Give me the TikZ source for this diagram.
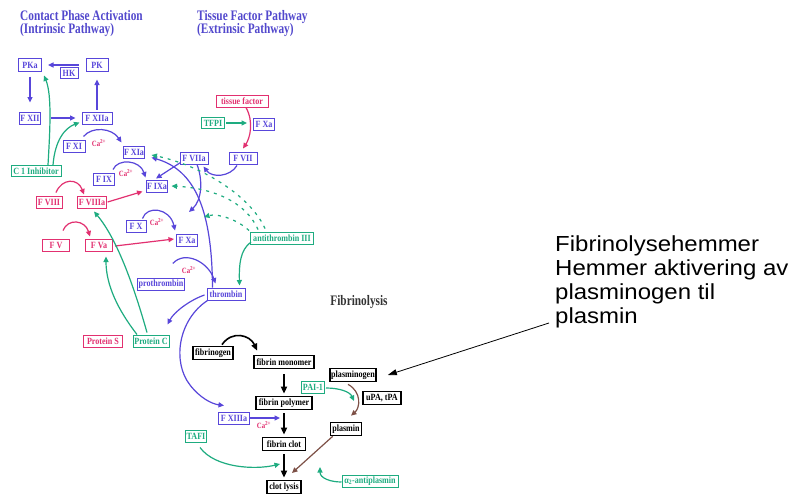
\documentclass[tikz,border=0pt]{standalone}
\usepackage{fontspec}
\setmainfont{Liberation Serif}
\newfontfamily\dfont[FakeStretch=0.85]{Liberation Serif}
\newfontfamily\tfont[FakeStretch=0.78]{Liberation Serif}
\newfontfamily\afont[FakeStretch=1.1]{Liberation Sans}
\usetikzlibrary{arrows.meta}
\definecolor{cblue}{RGB}{88,70,218}
\definecolor{cpink}{RGB}{226,48,112}
\definecolor{cgreen}{RGB}{30,172,128}
\definecolor{ctitle}{RGB}{82,72,205}
\definecolor{cbrown}{RGB}{125,80,70}
\begin{document}
\begin{tikzpicture}[x=1pt,y=-1pt,
 box/.style={draw, line width=1pt, inner sep=1pt, minimum height=12pt, font=\dfont\bfseries\fontsize{9.5}{10}\selectfont},
 bb/.style={box, draw=cblue, text=cblue},
 pb/.style={box, draw=cpink, text=cpink},
 gb/.style={box, draw=cgreen, text=cgreen},
 kb/.style={box, draw=black, text=black, line width=1.7pt, minimum height=13pt},
 ca/.style={text=cpink, font=\dfont\bfseries\fontsize{8}{8}\selectfont, inner sep=0pt},
 conn/.style={line width=1.2pt, -{Triangle[length=5.5pt,width=5pt]}},
 bl/.style={conn, cblue}, pl/.style={conn, cpink}, gl/.style={conn, cgreen},
 gd/.style={gl, dash pattern=on 3pt off 5pt},
 kl/.style={line width=1.6pt, black, -{Triangle[length=7pt,width=6pt]}},
 rl/.style={conn, cbrown},
 ttl/.style={anchor=base west, text=ctitle, inner sep=0pt, font=\tfont\bfseries\fontsize{14.5}{15}\selectfont},
 ann/.style={anchor=base west, inner sep=0pt, font=\afont\fontsize{21.8}{24}\selectfont}
]
\useasboundingbox (0,0) rectangle (792,495);
\fill[white] (0,0) rectangle (792,495);

% titles
\node[ttl] (t1) at (20,20.5) {Contact Phase Activation};
\node[ttl] (t2) at (20,34) {(Intrinsic Pathway)};
\node[ttl] (t3) at (197,20.5) {Tissue Factor Pathway};
\node[ttl] (t4) at (197,34) {(Extrinsic Pathway)};
\node[font=\tfont\bfseries\fontsize{14.5}{15}\selectfont, text=black!80, inner sep=0pt] (fib) at (359,302) {Fibrinolysis};

% nodes
\node[bb,minimum width=23pt] (PKa) at (30,65) {PKa};
\node[bb,minimum width=18pt,minimum height=11pt] (HK) at (69,73) {HK};
\node[bb,minimum width=22pt] (PK) at (97,65) {PK};
\node[bb,minimum width=21pt] (FXII) at (30,118) {F XII};
\node[bb,minimum width=30pt] (FXIIa) at (97,118) {F XIIa};
\node[bb,minimum width=22pt] (FXI) at (74,146) {F XI};
\node[bb,minimum width=21pt] (FXIa) at (134,152) {F XIa};
\node[bb,minimum width=28pt] (FVIIa) at (194,158) {F VIIa};
\node[bb,minimum width=28pt] (FVII) at (243,158) {F VII};
\node[gb,minimum width=23pt,minimum height=11pt] (TFPI) at (213,123) {TFPI};
\node[bb,minimum width=21pt] (FXau) at (264,124) {F Xa};
\node[pb,minimum width=52pt] (TF) at (242,101) {tissue factor};
\node[bb,minimum width=21pt] (FIX) at (104,179) {F IX};
\node[bb,minimum width=21pt] (FIXa) at (157,186) {F IXa};
\node[gb,minimum width=50pt,minimum height=11pt] (CI) at (36,171) {C 1 Inhibitor};
\node[pb,minimum width=26pt] (FVIII) at (49,202) {F VIII};
\node[pb,minimum width=28pt] (FVIIIa) at (92,202) {F VIIIa};
\node[bb,minimum width=20pt] (FX) at (136,226) {F X};
\node[bb,minimum width=21pt] (FXa) at (187,240) {F Xa};
\node[pb,minimum width=27pt] (FV) at (56,245) {F V};
\node[pb,minimum width=27pt] (FVa) at (99,245) {F Va};
\node[gb,minimum width=63pt] (AT) at (282,238) {antithrombin III};
\node[bb,minimum width=46pt] (proT) at (161,284) {prothrombin};
\node[bb,minimum width=38pt] (thr) at (226,294) {thrombin};
\node[pb,minimum width=39pt] (PS) at (103,341) {Protein S};
\node[gb,minimum width=36pt] (PC) at (151,341) {Protein C};
\node[kb,minimum width=40pt] (fbg) at (213,353) {fibrinogen};
\node[kb,minimum width=60pt] (fmon) at (284,362) {fibrin monomer};
\node[kb,minimum width=56pt] (fpol) at (284,403) {fibrin polymer};
\node[kb,minimum width=43pt] (fclot) at (284,444) {fibrin clot};
\node[kb,minimum width=34pt] (lysis) at (284,487) {clot lysis};
\node[kb,minimum width=46pt] (plg) at (353,375) {plasminogen};
\node[gb,minimum width=23pt] (PAI) at (313,387) {PAI-1};
\node[kb,minimum width=38pt] (uPA) at (382,398) {uPA, tPA};
\node[kb,minimum width=31pt] (plm) at (346,429) {plasmin};
\node[bb,minimum width=31pt] (FXIIIa) at (234,418) {F XIIIa};
\node[gb,minimum width=20pt] (TAFI) at (196,436) {TAFI};
\node[gb,minimum width=56pt] (apl) at (370,481) {α\textsubscript{2}-antiplasmin};

% Ca labels
\node[ca] (ca1) at (99,143) {Ca\textsuperscript{2+}};
\node[ca] (ca2) at (126,173) {Ca\textsuperscript{2+}};
\node[ca] (ca3) at (157,222) {Ca\textsuperscript{2+}};
\node[ca] (ca4) at (189,270) {Ca\textsuperscript{2+}};
\node[ca] (ca5) at (264,425) {Ca\textsuperscript{2+}};

% blue connectors
\draw[bl, shorten >=6pt] (HK.north east |- PKa.east) -- (PKa.east);
\draw[bl, shorten <=5pt, shorten >=9pt] (PKa.south) -- (FXII.north);
\draw[bl, shorten <=10pt, shorten >=6pt] (FXII.east) -- (FXIIa.west);
\draw[bl, shorten <=2pt, shorten >=8pt] (FXIIa.north) -- (PK.south);
\draw[bl] ([shift={(-2,-3)}]FXI.north east) .. controls (92,126) and (112,128) .. ([shift={(-1,-3)}]FXIa.north west);
\draw[bl] ([shift={(-2,-3)}]FIX.north east) .. controls (118,158) and (140,160) .. ([shift={(0,-2)}]FIXa.north west);
\draw[bl] ([shift={(1,-2)}]FVIIa.south west) -- ([shift={(-1,-1)}]FIXa.north);
\draw[bl] ([shift={(6,0)}]thr.north west) .. controls (212,210) and (195,170) .. ([shift={(6,-1)}]FXIa.south east);
\coordinate (vxa) at (189,212);
\draw[bl] ([shift={(3,0)}]FVIIa.south) .. controls (203,180) and (202,200) .. (vxa);
\draw[bl] ([shift={(-6,1)}]FVII.south) .. controls (230,177) and (212,178) .. ([shift={(-5,2)}]FVIIa.south east);
\draw[bl] ([shift={(-4,-1)}]FX.north east) .. controls (147,205) and (170,208) .. ([shift={(-1,-3)}]FXa.north west);
\draw[bl] ([shift={(-12,-14)}]proT.north east) .. controls (185,250) and (208,262) .. ([shift={(9,-4)}]thr.north west);
\draw[bl] ([shift={(-2,1)}]thr.west) .. controls (190,300) and (174,312) .. ([shift={(-2,-10)}]PC.north east);
\draw[bl] ([shift={(1,0)}]thr.south west) .. controls (178,320) and (172,362) .. (190,385) .. controls (200,398) and (212,404) .. ([shift={(6,-6)}]FXIIIa.north west);
\coordinate (xiiit) at ([xshift=-4pt]fpol.south);
\draw[bl] (FXIIIa.east) -- (xiiit |- FXIIIa.east);

% pink connectors
\draw[pl] ([shift={(4,0)}]TF.south) .. controls (254,122) and (250,138) .. ([shift={(0,-3)}]FVII.north);
\draw[pl] ([shift={(7,-3)}]FVIII.north) .. controls (62,178) and (78,178) .. ([shift={(-8,-1)}]FVIIIa.north);
\draw[pl] ([shift={(1,0)}]FVIIIa.east) -- ([shift={(-3,-1)}]FIXa.south west);
\draw[pl] ([shift={(7,-8)}]FV.north) .. controls (68,218) and (85,220) .. ([shift={(-9,-2)}]FVa.north);
\draw[pl] ([shift={(2,1)}]FVa.east) -- ([shift={(-2,-1)}]FXa.west);

% green connectors
\draw[gl, shorten <=1pt, shorten >=6pt] (TFPI.east) -- (TFPI.east -| FXau.west);
\draw[gl] ([shift={(12,0)}]CI.north) .. controls (50,130) and (52,95) .. ([shift={(2,4)}]PKa.south east);
\draw[gl] ([shift={(17,0)}]CI.north) .. controls (55,140) and (65,128) .. ([shift={(-2,-2)}]FXIIa.south west);
\draw[gl] ([shift={(1,4)}]AT.west) .. controls (240,250) and (239,265) .. ([shift={(-6,-2)}]thr.north east);
\draw[gl] ([shift={(-14,0)}]PC.north) .. controls (118,310) and (106,285) .. ([shift={(7,5)}]FVa.south);
\draw[gl] ([shift={(-4,-2)}]PC.north) .. controls (135,290) and (118,240) .. ([shift={(2,3)}]FVIIIa.south);
\coordinate (paiT) at (354,401);
\draw[gl] ([shift={(1,1)}]PAI.east) .. controls (340,388) and (350,392) .. (paiT);
\coordinate (tafiT) at (280,464);
\draw[gl] ([shift={(4,5)}]TAFI.south) .. controls (215,468) and (255,470) .. (tafiT);
\coordinate (aplT) at (320,467);
\draw[gl] ([shift={(0,1)}]apl.west) .. controls (330,482) and (320,478) .. (aplT);
% dashed antithrombin
\draw[gd] ([shift={(-17,-3)}]AT.north) .. controls (250,195) and (200,165) .. ([shift={(6,3)}]FXIa.east);
\draw[gd] ([shift={(-24,-2)}]AT.north) .. controls (245,200) and (210,188) .. ([shift={(3,0)}]FIXa.east);
\coordinate (atx) at (204,217);
\draw[gd] ([shift={(-33,-1)}]AT.north) .. controls (238,220) and (218,213) .. (atx);

% black fibrin
\draw[kl] ([shift={(9,-1)}]fbg.north) .. controls (232,330) and (250,335) .. ([shift={(4,-4)}]fmon.north west);
\draw[kl, shorten <=5pt, shorten >=2pt] (fmon.south) -- (fpol.north);
\draw[kl, shorten <=3pt, shorten >=2pt] (fpol.south) -- (fclot.north);
\draw[kl, shorten <=3pt, shorten >=2pt] (fclot.south) -- (lysis.north);

% brown plasmin
\draw[rl] ([shift={(-5,2)}]plg.south) .. controls (362,392) and (360,408) .. ([shift={(5,-6)}]plm.north);
\coordinate (plmT) at (292,473);
\draw[rl] ([shift={(3,0)}]plm.south west) -- (plmT);

% annotation
\node[ann] (a1) at (555,251) {Fibrinolysehemmer};
\node[ann] (a2) at (555,275) {Hemmer aktivering av};
\node[ann] (a3) at (555,299) {plasminogen til};
\node[ann] (a4) at (555,323) {plasmin};
\coordinate (afrom) at (549,323);
\draw[line width=0.8pt, -{Triangle[length=9pt,width=6pt]}] (afrom) -- ([shift={(11,0)}]plg.east);
\end{tikzpicture}
\end{document}
